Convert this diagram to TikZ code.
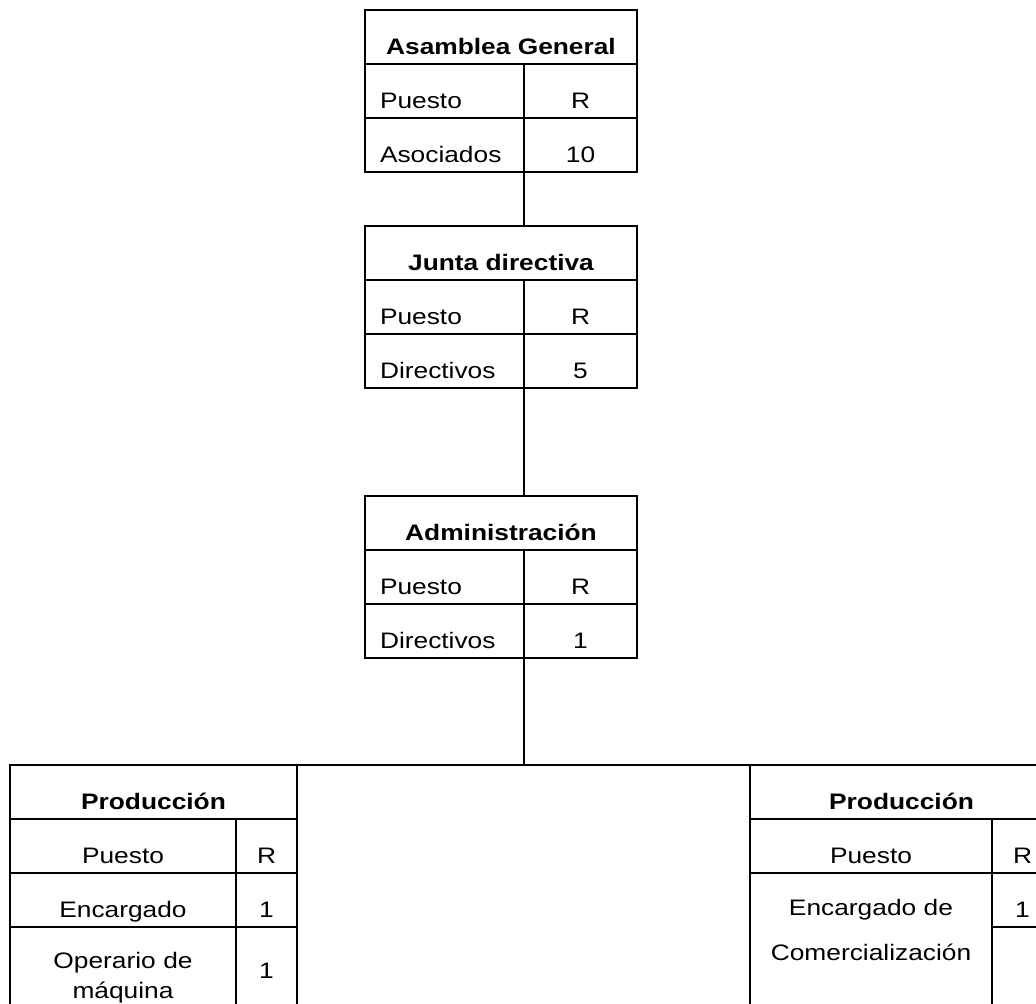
\documentclass[tikz,border=0pt]{standalone}
\usepackage{fontspec}
\setmainfont{Liberation Sans}[FakeStretch=1.175]
\usepackage{tikz}
\usetikzlibrary{positioning}
\tikzset{
  cell/.style={draw, line width=0.9pt, inner sep=0pt, outer sep=0pt,
    minimum height=27pt, text height=22pt, text depth=5pt,
    font=\fontsize{11.2}{13}\selectfont},
  head/.style={cell, font=\fontsize{11.2}{13}\selectfont\bfseries},
  lcell/.style={cell, minimum width=79.5pt, text width=64.5pt, inner xsep=7.5pt, align=left},
  rcell/.style={cell, minimum width=56.5pt},
  link/.style={line width=0.9pt}
}

\begin{document}
\begin{tikzpicture}[x=0.5pt,y=-0.5pt]
  \useasboundingbox (0,0) rectangle (1036,1003);
  \clip (0,0) rectangle (1036,1003);

  \node[head, minimum width=136pt, anchor=north west] (asamblea) at (365,10) {Asamblea General};
  \node[lcell, below right=0pt and 0pt of asamblea.south west] (asamblea-p) {Puesto};
  \node[rcell, right=0pt of asamblea-p] (asamblea-r) {R};
  \node[lcell, below=0pt of asamblea-p] (asamblea-n) {Asociados};
  \node[rcell, right=0pt of asamblea-n] (asamblea-v) {10};

  \node[head, minimum width=136pt, below right=27pt and 0pt of asamblea-n.south west] (junta) {Junta directiva};
  \node[lcell, below right=0pt and 0pt of junta.south west] (junta-p) {Puesto};
  \node[rcell, right=0pt of junta-p] (junta-r) {R};
  \node[lcell, below=0pt of junta-p] (junta-n) {Directivos};
  \node[rcell, right=0pt of junta-n] (junta-v) {5};

  \node[head, minimum width=136pt, below right=54pt and 0pt of junta-n.south west] (admin) {Administración};
  \node[lcell, below right=0pt and 0pt of admin.south west] (admin-p) {Puesto};
  \node[rcell, right=0pt of admin-p] (admin-r) {R};
  \node[lcell, below=0pt of admin-p] (admin-n) {Directivos};
  \node[rcell, right=0pt of admin-n] (admin-v) {1};

  \node[head, minimum width=143.5pt, anchor=north west] (prodL) at (10,765) {Producción};
  \node[cell, minimum width=113pt, below right=0pt and 0pt of prodL.south west] (prodL-p) {Puesto};
  \node[cell, minimum width=30.5pt, right=0pt of prodL-p] (prodL-r) {R};
  \node[cell, minimum width=113pt, below=0pt of prodL-p] (prodL-e) {Encargado};
  \node[cell, minimum width=30.5pt, right=0pt of prodL-e] (prodL-ev) {1};
  \node[cell, minimum width=113pt, text width=113pt, align=center, minimum height=50pt,
    text height=20.5pt, text depth=29.5pt, font=\fontsize{11.2}{15}\selectfont,
    below=0pt of prodL-e] (prodL-o) {Operario de\\máquina};
  \node[cell, minimum width=30.5pt, minimum height=50pt, text height=25.5pt, text depth=24.5pt,
    right=0pt of prodL-o] (prodL-ov) {1};

  \node[head, minimum width=151.5pt, anchor=north west] (prodR) at (750,765) {Producción};
  \node[cell, minimum width=121pt, below right=0pt and 0pt of prodR.south west] (prodR-p) {Puesto};
  \node[cell, minimum width=30.5pt, right=0pt of prodR-p] (prodR-r) {R};
  \node[cell, minimum width=121pt, text width=121pt, align=center, minimum height=90pt,
    text height=21pt, text depth=69pt, font=\fontsize{11.2}{22.5}\selectfont,
    below=0pt of prodR-p] (prodR-e) {Encargado de\\Comercialización};
  \node[cell, minimum width=30.5pt, below right=0pt and 0pt of prodR-r.south west] (prodR-ev) {1};
  \node[cell, minimum width=30.5pt, minimum height=63pt, text height=0pt, text depth=0pt,
    below=0pt of prodR-ev] (prodR-x) {};

  \draw[link] (asamblea-n.south east) -- (asamblea-n.south east |- junta.north);
  \draw[link] (junta-n.south east) -- (junta-n.south east |- admin.north);
  \draw[link] (admin-n.south east) -- (admin-n.south east |- prodL.north);
  \draw[link] (prodL.north east) -- (prodR.north west);
\end{tikzpicture}
\end{document}
